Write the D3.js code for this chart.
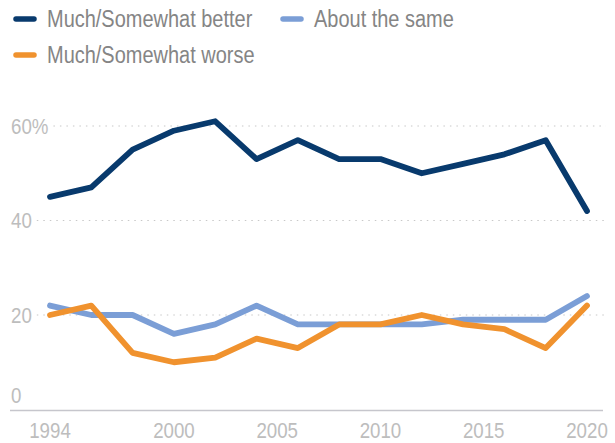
<!DOCTYPE html>
<html>
<head>
<meta charset="utf-8">
<script src="https://cdn.jsdelivr.net/npm/d3@7"></script>
<style>
  body { margin: 0; background: #fff; }
  text { font-family: "Liberation Sans", Arial, sans-serif; }
</style>
</head>
<body>
<svg id="chart" width="615" height="443"></svg>
<script>
var years = [1994, 1996, 1998, 2000, 2002, 2004, 2006, 2008, 2010, 2012, 2014, 2016, 2018, 2020];
var better = [45, 47, 55, 59, 61, 53, 57, 53, 53, 50, 52, 54, 57, 42];
var same = [22, 20, 20, 16, 18, 22, 18, 18, 18, 18, 19, 19, 19, 24];
var worse = [20, 22, 12, 10, 11, 15, 13, 18, 18, 20, 18, 17, 13, 22];
var seriesNames = ["Much/Somewhat better", "About the same", "Much/Somewhat worse"];
var yTicks = [0, 20, 40, 60];
var xTicks = [1994, 2000, 2005, 2010, 2015, 2020];

var colors = ["#083a6d", "#7b9ed6", "#f0922e"];
var SQUEEZE = 0.85; // reference font is a bit condensed

var svg = d3.select("#chart");
var x = d3.scaleLinear().domain([1994, 2020]).range([50, 587]);
var y = d3.scaleLinear().domain([0, 60]).range([409.5, 126]);

function label(px, py, str, size, fill, anchor) {
    return svg.append("text")
        .attr("transform", "translate(" + px + "," + py + ") scale(" + SQUEEZE + ",1)")
        .attr("dy", "0.35em")
        .attr("font-size", size)
        .attr("fill", fill)
        .attr("text-anchor", anchor || "start")
        .text(str);
}

// gridlines + y labels
yTicks.forEach(function(t) {
    var lx = 11;
    var txt = label(lx, t === 0 ? y(t) - 14 : y(t), t === 60 ? "60%" : String(t), 22, "#bdbdbd");
    if (t > 0) {
        var w = txt.node().getComputedTextLength() * SQUEEZE;
        svg.append("line")
            .attr("x1", lx + w + 5).attr("x2", 606)
            .attr("y1", y(t)).attr("y2", y(t))
            .attr("stroke", "#c8c8c8")
            .attr("stroke-width", 1.2)
            .attr("stroke-dasharray", "1.5,5");
    }
});

// baseline
svg.append("line")
    .attr("x1", 10).attr("x2", 603)
    .attr("y1", y(0) + 1).attr("y2", y(0) + 1)
    .attr("stroke", "#c6c6cc").attr("stroke-width", 1.5);

// x labels
xTicks.forEach(function(d) {
    label(x(d), 430, d, 22, "#bdbdbd", "middle");
});

var line = d3.line()
    .x(function(d, i) { return x(years[i]); })
    .y(function(d) { return y(d); });

[same, worse, better].forEach(function(vals) {
    var idx = vals === better ? 0 : (vals === same ? 1 : 2);
    svg.append("path")
        .attr("d", line(vals))
        .attr("fill", "none")
        .attr("stroke", colors[idx])
        .attr("stroke-width", 5.8)
        .attr("stroke-linejoin", "round")
        .attr("stroke-linecap", "round");
});

// legend
var legendPos = [[14, 19], [281, 19], [14, 55]];
seriesNames.forEach(function(name, i) {
    var p = legendPos[i];
    svg.append("line")
        .attr("x1", p[0] + 2).attr("x2", p[0] + 20)
        .attr("y1", p[1]).attr("y2", p[1])
        .attr("stroke", colors[i]).attr("stroke-width", 5.5)
        .attr("stroke-linecap", "round");
    label(p[0] + 33, p[1], name, 23.5, "#858585");
});
</script>
</body>
</html>
